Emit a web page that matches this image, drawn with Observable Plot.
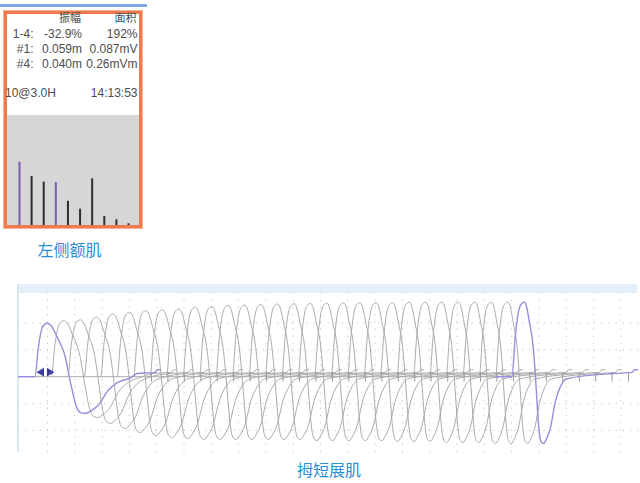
<!DOCTYPE html>
<html><head><meta charset="utf-8">
<script src="https://cdn.jsdelivr.net/npm/d3@7"></script>
<script src="https://cdn.jsdelivr.net/npm/@observablehq/plot@0.6"></script>
<style>
html,body{margin:0;padding:0;background:#fff;}
#root{position:relative;width:640px;height:483px;overflow:hidden;font-family:"Liberation Sans",Arial,sans-serif;}
.abs{position:absolute;}
</style></head><body><div id="root"></div>
<script>
// ---------- data: amplitude bars (top-left panel) ----------
const stimNo = [1, 2, 3, 4, 5, 6, 7, 8, 9, 10];
const stimAmp = [0.059, 0.0457, 0.0404, 0.040, 0.0226, 0.0152, 0.0435, 0.0084, 0.0053, 0.0016]; // mV
const highlighted = [1, 4];
// ---------- data: stats text ----------
const statHeader = ["振幅", "面积"];
const statLabels = ["1-4:", "#1:", "#4:"];
const statAmp = ["-32.9%", "0.059m", "0.040m"];
const statArea = ["192%", "0.087mV", "0.26mVm"];
const trainLabel = "10@3.0H";
const timeLabel = "14:13:53";
const topTitle = "左侧额肌";
const bottomTitle = "拇短展肌";
// ---------- data: waveform cascade (time in divisions, amplitude in divisions) ----------
const peakT = [0.989, 1.592, 2.194, 2.797, 3.399, 4.002, 4.604, 5.207, 5.810, 6.412,
  7.015, 7.617, 8.220, 8.822, 9.425, 10.03, 10.63, 11.23, 11.84, 12.44,
  13.04, 13.64, 14.25, 14.85, 15.45, 16.05, 16.66, 17.26, 17.86, 18.46];
const peakV = [1.99, 2.09, 2.12, 2.22, 2.34, 2.40, 2.46, 2.49, 2.53, 2.59,
  2.62, 2.66, 2.67, 2.69, 2.71, 2.72, 2.73, 2.74, 2.75, 2.76,
  2.76, 2.76, 2.78, 2.78, 2.78, 2.78, 2.78, 2.78, 2.78, 2.78];
const troughV = [-1.37, -1.52, -1.74, -1.93, -2.08, -2.19, -2.27, -2.30, -2.34, -2.34,
  -2.34, -2.34, -2.34, -2.34, -2.34, -2.38, -2.38, -2.38, -2.38, -2.38,
  -2.41, -2.41, -2.41, -2.45, -2.45, -2.45, -2.49, -2.49, -2.49, -2.49];
const troughLag = [1.39, 1.25, 1.12, 1.06, 1.01, 0.99, 0.97, 0.95, 0.93, 0.92,
  0.90, 0.88, 0.88, 0.86, 0.84, 0.84, 0.82, 0.82, 0.81, 0.81,
  0.79, 0.79, 0.77, 0.77, 0.77, 0.75, 0.75, 0.73, 0.73, 0.71];
const purpleTraces = [0, 29];
// waveform shape
const startLead = 1.05;
const riseTime = 0.45;
const riseShape = [[-1, 0], [-0.72, 0.55], [-0.43, 0.9], [-0.18, 0.985], [0, 1]];      // (x rise, x peak)
const fallShape = [[0.1, 0.96], [0.27, 0.73], [0.48, 0.36], [0.55, 0.12], [0.58, 0]]; // (x lag, x peak)
const dipShape = [[0.66, 0.37], [0.74, 0.72], [0.87, 0.97], [1, 1], [1.15, 0.93], [1.35, 0.77],
  [1.6, 0.38], [1.85, 0.16], [2.2, 0.03]];                                              // (x lag, x trough)
const tailShape = [[3.3, 0.12], [3.82, 0.15], [3.95, 0.16], [4.03, 0.26], [4.15, 0.26]]; // (div after peak, value)
const endTick = [3.82, 0.15, -0.2];
const gridX = [1, 2, 3, 4, 5, 6, 7, 8, 9, 10, 11, 12, 13, 14, 15, 16, 17, 18, 19, 20, 21, 22];
const gridY = [-2, -1, 1, 2];
const cursor = [{t: 0.78, v: 0.17, rot: -90}, {t: 1.07, v: 0.17, rot: 90}];

// ---------- layout ----------
const root = document.getElementById("root");
function box(css) { const d = document.createElement("div"); d.className = "abs"; d.style.cssText = css; root.appendChild(d); return d; }

// top stripe
box("left:0;top:4px;width:147px;height:3px;background:#7ba8de;");
// orange frame
box("left:4px;top:11px;width:138px;height:217px;box-sizing:border-box;border:3px solid #ee7a4f;box-shadow:0 0 0 1px #f6b094;background:#fff;");

// bar plot
const bars = stimNo.map((n, k) => ({n, v: stimAmp[k], hi: highlighted.includes(n)}));
const p1 = Plot.plot({
  width: 132, height: 110,
  marginLeft: 12, marginRight: 11, marginTop: 0, marginBottom: 0,
  x: {domain: [1, 10], axis: null},
  y: {domain: [0, 0.1025], axis: null},
  style: {background: "#d6d6d6"},
  marks: [
    Plot.ruleX(bars, {x: "n", y1: 0, y2: "v", stroke: d => d.hi ? "#7b5cb6" : "#2e2e2e", strokeWidth: 2})
  ]
});
const w1 = box("left:7px;top:115px;width:132px;height:110px;");
w1.appendChild(p1);

// waveform band and edge
box("left:18px;top:284px;width:619px;height:9px;background:#e3effa;");
box("left:17px;top:284px;width:2px;height:168px;background:#d6e7f6;");

const traces = peakT.map((P, i) => ({i, P, A: peakV[i], B: troughV[i], L: troughLag[i]}));
function tracePoints(tr) {
  const pts = [];
  const push = (x, v) => { if (!pts.length || x > pts[pts.length - 1].t + 1e-6) pts.push({i: tr.i, t: x, v}); };
  push(tr.P - startLead, 0);
  riseShape.forEach(([d, f]) => push(tr.P + d * riseTime, f * tr.A));
  fallShape.forEach(([d, f]) => push(tr.P + d * tr.L, f * tr.A));
  dipShape.forEach(([d, f]) => push(tr.P + d * tr.L, f * tr.B));
  tailShape.forEach(([d, v]) => push(tr.P + d, v));
  return pts;
}
const grayPts = traces.filter(t => !purpleTraces.includes(t.i)).flatMap(tracePoints);
const purplePts = traces.filter(t => purpleTraces.includes(t.i)).flatMap(tracePoints);

const p2 = Plot.plot({
  width: 622, height: 168,
  marginLeft: 0, marginRight: 0, marginTop: 0, marginBottom: 0,
  x: {domain: [-0.062, 22.72], axis: null},
  y: {domain: [-2.824, 3.435], axis: null},
  marks: [
    Plot.ruleX(gridX, {x: d => d, y1: -2.824, y2: 3.1, stroke: "#c4c4c4", strokeDasharray: "1.2,6", strokeWidth: 1}),
    Plot.ruleY(gridY, {y: d => d, stroke: "#c4c4c4", strokeDasharray: "1.2,6", strokeWidth: 1}),
    Plot.line(grayPts, {x: "t", y: "v", z: "i", stroke: "#ababab", strokeWidth: 1, curve: "monotone-x"}),
    Plot.ruleX(traces, {x: d => d.P + endTick[0], y1: endTick[1], y2: endTick[2], stroke: "#9a9a9a", strokeWidth: 1}),
    Plot.line(purplePts, {x: "t", y: "v", z: "i", stroke: "#9490da", strokeWidth: 1.4, curve: "monotone-x"}),
    Plot.dot(cursor, {x: "t", y: "v", symbol: "triangle", rotate: "rot", r: 3.2, fill: "#3b3e9e", stroke: "none"})
  ]
});
const w2 = box("left:18px;top:284px;width:622px;height:168px;");
w2.appendChild(p2);

// text overlay
const ns = "http://www.w3.org/2000/svg";
const svg = document.createElementNS(ns, "svg");
svg.setAttribute("width", 640); svg.setAttribute("height", 483);
svg.setAttribute("class", "abs"); svg.style.left = "0"; svg.style.top = "0";
root.appendChild(svg);
function txt(s, x, y, anchor, size, fill, family) {
  const t = document.createElementNS(ns, "text");
  t.setAttribute("x", x); t.setAttribute("y", y);
  t.setAttribute("text-anchor", anchor);
  t.setAttribute("font-size", size);
  t.setAttribute("fill", fill);
  t.setAttribute("font-family", family || "'Liberation Sans', Arial, 'Noto Sans CJK SC', sans-serif");
  t.textContent = s; svg.appendChild(t);
}
const cjk = "'Noto Sans CJK SC', sans-serif";
const tc = "#4d4d4d";
txt(statHeader[0], 81, 21.5, "end", 11, tc, cjk);
txt(statHeader[1], 136.5, 21.5, "end", 11, tc, cjk);
const rowY = [37.7, 52.8, 67.8];
statLabels.forEach((s, k) => {
  txt(s, 33.5, rowY[k], "end", 12, tc);
  txt(statAmp[k], 82, rowY[k], "end", 12, tc);
  txt(statArea[k], 137.5, rowY[k], "end", 12, tc);
});
txt(trainLabel, 5, 97, "start", 12, tc);
txt(timeLabel, 137.5, 97, "end", 12, tc);
txt(topTitle, 69.5, 256, "middle", 16, "#2b8fd6", cjk);
txt(bottomTitle, 329, 475.5, "middle", 16, "#2b8fd6", cjk);
</script></body></html>
